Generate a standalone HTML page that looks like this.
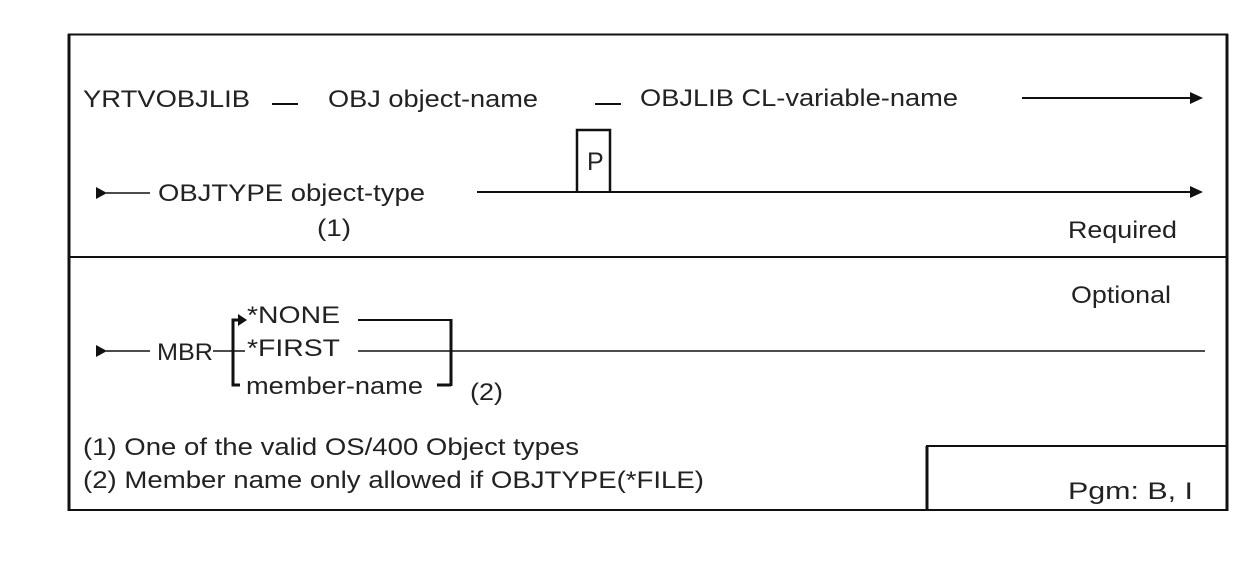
<!DOCTYPE html>
<html><head><style>
html,body{margin:0;padding:0;background:#fff;}
svg{display:block;}
text{font-family:"Liberation Sans",Arial,sans-serif;font-size:24px;fill:#222;}
</style></head><body>
<svg width="1250" height="567" viewBox="0 0 1250 567" xmlns="http://www.w3.org/2000/svg">
<g stroke="#111" fill="none">
<line x1="68" y1="34.5" x2="1228" y2="34.5" stroke-width="2"/>
<line x1="69" y1="34" x2="69" y2="511" stroke-width="3"/>
<line x1="1227" y1="34" x2="1227" y2="511" stroke-width="3"/>
<line x1="68" y1="510" x2="1228" y2="510" stroke-width="2"/>
<line x1="68" y1="257" x2="1228" y2="257" stroke-width="2"/>
<line x1="926" y1="446" x2="1228" y2="446" stroke-width="2"/>
<line x1="927" y1="446" x2="927" y2="510" stroke-width="3"/>
<line x1="272" y1="104" x2="298" y2="104" stroke-width="2"/>
<line x1="595" y1="104" x2="621" y2="104" stroke-width="2"/>
<line x1="1022" y1="98" x2="1192" y2="98" stroke-width="2"/>
<line x1="106" y1="193" x2="150" y2="193" stroke-width="1.5"/>
<line x1="477" y1="192" x2="1192" y2="192" stroke-width="2"/>
<polyline points="577,192 577,130 610,130 610,192" stroke-width="2.5"/>
<line x1="106" y1="351" x2="150" y2="351" stroke-width="1.5"/>
<line x1="213" y1="351" x2="245" y2="351" stroke-width="1.5"/>
<line x1="358" y1="351" x2="1205" y2="351" stroke-width="1.5"/>
<polyline points="240,320 233,320 233,385 240,385" stroke-width="3"/>
<line x1="358" y1="320" x2="451" y2="320" stroke-width="2"/>
<line x1="451" y1="319" x2="451" y2="386" stroke-width="3"/>
<line x1="437" y1="385" x2="451" y2="385" stroke-width="3"/>
</g>
<g fill="#111">
<polygon points="1190,92 1203,98 1190,104"/>
<polygon points="1190,186 1203,192 1190,198"/>
<polygon points="96,187 107,193 96,199"/>
<polygon points="96,345 107,351 96,357"/>
<polygon points="238,314 247,320 238,326"/>
</g>
<text x="83" y="107" textLength="167" lengthAdjust="spacingAndGlyphs">YRTVOBJLIB</text>
<text x="328" y="107" textLength="210" lengthAdjust="spacingAndGlyphs">OBJ object-name</text>
<text x="640" y="106" textLength="318" lengthAdjust="spacingAndGlyphs">OBJLIB CL-variable-name</text>
<text x="158" y="201" textLength="267" lengthAdjust="spacingAndGlyphs">OBJTYPE object-type</text>
<text x="317" y="236" textLength="34" lengthAdjust="spacingAndGlyphs">(1)</text>
<text x="587" y="170" style="font-size:25px">P</text>
<text x="1068" y="238" textLength="109" lengthAdjust="spacingAndGlyphs">Required</text>
<text x="1071" y="303" textLength="100" lengthAdjust="spacingAndGlyphs">Optional</text>
<text x="157" y="360" textLength="56" lengthAdjust="spacingAndGlyphs">MBR</text>
<text x="247" y="323" textLength="93" lengthAdjust="spacingAndGlyphs">*NONE</text>
<text x="247" y="356" textLength="93" lengthAdjust="spacingAndGlyphs">*FIRST</text>
<text x="246" y="394" textLength="177" lengthAdjust="spacingAndGlyphs">member-name</text>
<text x="470" y="400" textLength="33" lengthAdjust="spacingAndGlyphs">(2)</text>
<text x="83" y="455" textLength="496" lengthAdjust="spacingAndGlyphs">(1) One of the valid OS/400 Object types</text>
<text x="83" y="488" textLength="621" lengthAdjust="spacingAndGlyphs">(2) Member name only allowed if OBJTYPE(*FILE)</text>
<text x="1068" y="499" textLength="125" lengthAdjust="spacingAndGlyphs">Pgm: B, I</text>
</svg>
</body></html>
